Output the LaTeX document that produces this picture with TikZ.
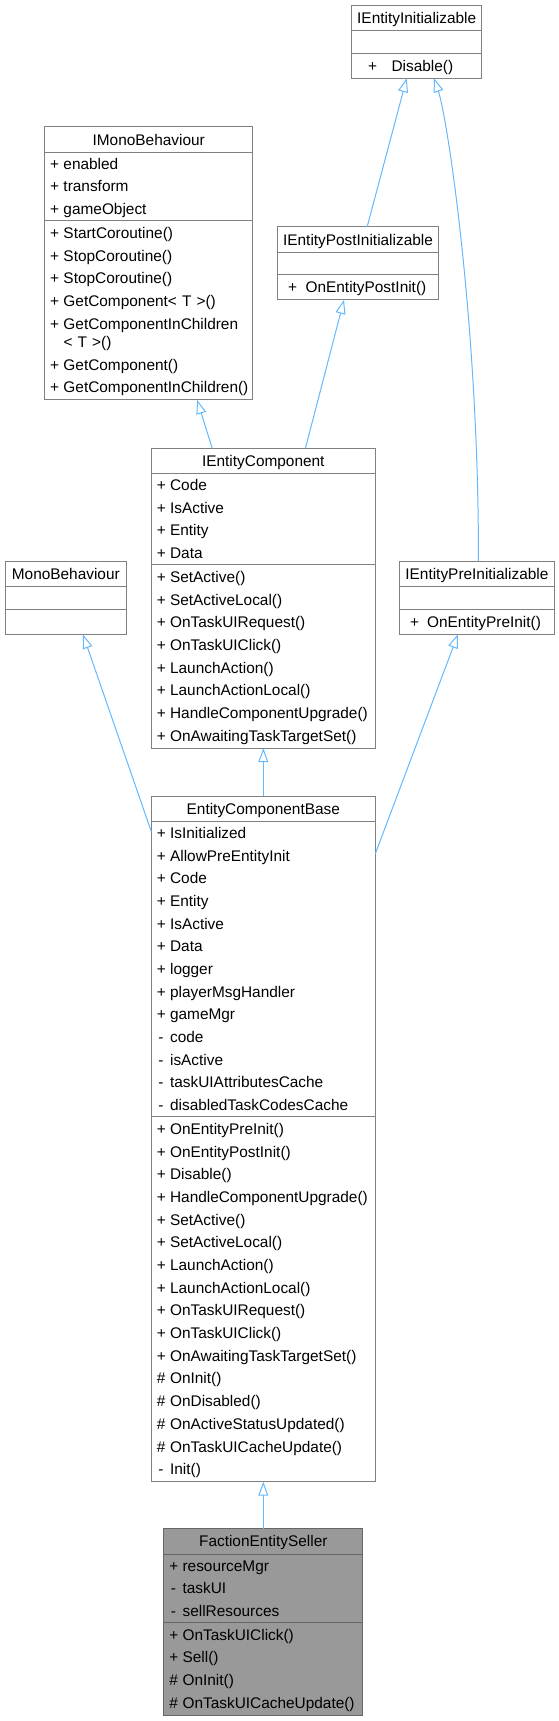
\documentclass[tikz,border=0pt]{standalone}
\usepackage{fontspec}
\setmainfont{Liberation Sans}
\usetikzlibrary{positioning,arrows.meta}
\setlength{\parindent}{0pt}

\definecolor{edgeblue}{HTML}{63B8FF}
\definecolor{boxgray}{HTML}{808080}
\definecolor{selgray}{HTML}{999999}
\definecolor{seldraw}{HTML}{666666}

\newcommand{\rowstrut}{\rule[-5.78pt]{0pt}{22.68pt}}
\newcommand{\pub}{\rowstrut\makebox[13.3pt][l]{+}}
\newcommand{\priv}{\rowstrut\makebox[13.3pt][l]{\hspace{1.5pt}-}}
\newcommand{\prot}{\rowstrut\makebox[13.3pt][l]{\#}}

\begin{document}
\begin{tikzpicture}[x=1pt, y=-1pt,
	ttl/.style={draw=boxgray, line width=1pt, inner xsep=0pt, inner ysep=0pt, outer sep=0pt,
		minimum height=25.5pt, anchor=north, font=\fontsize{15.4pt}{22.68pt}\selectfont},
	sec/.style={draw=boxgray, line width=1pt, inner xsep=5.5pt, inner ysep=0pt, outer sep=0pt,
		text width=#1, align=left, minimum height=22.5pt, font=\fontsize{15.4pt}{22.68pt}\selectfont},
	ops/.style={inner ysep=1.25pt},
	sel/.style={fill=selgray, draw=seldraw},
	inh/.style={edgeblue, line width=1pt, -{Triangle[open, length=14pt, width=10pt]}}]
	\useasboundingbox (0,0) rectangle (559,1721);
	
	% IEntityInitializable
	\node[ttl, minimum width=130pt] (einitT) at (416.7,5) {\rowstrut IEntityInitializable};
	\node[sec=119pt, below=0pt of einitT] (einitA) {};
	\node[sec=119pt, ops, below=0pt of einitA] (einitM) {\hspace*{11pt}\rowstrut\makebox[23.4pt][l]{+}Disable()};
	
	% IMonoBehaviour
	\node[ttl, minimum width=208pt] (imonoT) at (148.7,126.7) {\rowstrut IMonoBehaviour};
	\node[sec=197pt, below=0pt of imonoT] (imonoA) {\pub enabled\\\pub transform\\\pub gameObject};
	\node[sec=197pt, ops, below=0pt of imonoA] (imonoM) {\pub StartCoroutine()\\\pub StopCoroutine()\\\pub StopCoroutine()\\
		\pub GetComponent< T >()\\\pub GetComponentInChildren\\[-4.28pt]\rowstrut\hspace*{13.3pt}< T >()\\
		\pub GetComponent()\\\pub GetComponentInChildren()};
	
	% IEntityPostInitializable
	\node[ttl, minimum width=161pt] (epostT) at (358,226.7) {\rowstrut IEntityPostInitializable};
	\node[sec=150pt, below=0pt of epostT] (epostA) {};
	\node[sec=150pt, ops, below=0pt of epostA] (epostM) {\hspace*{5.1pt}\rowstrut\makebox[17.5pt][l]{+}OnEntityPostInit()};
	
	% IEntityComponent
	\node[ttl, minimum width=224pt] (ecompT) at (263.3,448) {\rowstrut IEntityComponent};
	\node[sec=213pt, below=0pt of ecompT] (ecompA) {\pub Code\\\pub IsActive\\\pub Entity\\\pub Data};
	\node[sec=213pt, ops, below=0pt of ecompA] (ecompM) {\pub SetActive()\\\pub SetActiveLocal()\\\pub OnTaskUIRequest()\\
		\pub OnTaskUIClick()\\\pub LaunchAction()\\\pub LaunchActionLocal()\\\pub HandleComponentUpgrade()\\
		\pub OnAwaitingTaskTargetSet()};
	
	% MonoBehaviour
	\node[ttl, minimum width=121.6pt] (monoT) at (65.8,561) {\rowstrut MonoBehaviour};
	\node[sec=110.6pt, below=0pt of monoT] (monoA) {};
	\node[sec=110.6pt, ops, minimum height=25.5pt, below=0pt of monoA] (monoM) {};
	
	% IEntityPreInitializable
	\node[ttl, minimum width=155pt] (epreT) at (476.9,561) {\rowstrut IEntityPreInitializable};
	\node[sec=144pt, below=0pt of epreT] (epreA) {};
	\node[sec=144pt, ops, below=0pt of epreA] (epreM) {\hspace*{5.2pt}\rowstrut\makebox[17pt][l]{+}OnEntityPreInit()};
	
	% EntityComponentBase
	\node[ttl, minimum width=224pt] (ecbT) at (263.3,796) {\rowstrut EntityComponentBase};
	\node[sec=213pt, below=0pt of ecbT] (ecbA) {\pub IsInitialized\\\pub AllowPreEntityInit\\\pub Code\\\pub Entity\\
		\pub IsActive\\\pub Data\\\pub logger\\\pub playerMsgHandler\\\pub gameMgr\\\priv code\\\priv isActive\\
		\priv taskUIAttributesCache\\\priv disabledTaskCodesCache};
	\node[sec=213pt, ops, below=0pt of ecbA] (ecbM) {\pub OnEntityPreInit()\\\pub OnEntityPostInit()\\\pub Disable()\\
		\pub HandleComponentUpgrade()\\\pub SetActive()\\\pub SetActiveLocal()\\\pub LaunchAction()\\
		\pub LaunchActionLocal()\\\pub OnTaskUIRequest()\\\pub OnTaskUIClick()\\\pub OnAwaitingTaskTargetSet()\\
		\prot OnInit()\\\prot OnDisabled()\\\prot OnActiveStatusUpdated()\\\prot OnTaskUICacheUpdate()\\\priv Init()};
	
	% FactionEntitySeller
	\node[ttl, sel, minimum width=199pt] (fesT) at (263.3,1528.6) {\rowstrut FactionEntitySeller};
	\node[sec=188pt, sel, below=0pt of fesT] (fesA) {\pub resourceMgr\\\priv taskUI\\\priv sellResources};
	\node[sec=188pt, sel, ops, below=0pt of fesA] (fesM) {\pub OnTaskUIClick()\\\pub Sell()\\\prot OnInit()\\\prot OnTaskUICacheUpdate()};
	
	% Vererbung
	\draw[inh] ([xshift=9.2pt]epostT.north) -- ([xshift=-10pt]einitM.south);
	\draw[inh] ([xshift=1.5pt]epreT.north) .. controls (479,330) and (448,120) .. ([xshift=17.3pt]einitM.south);
	\draw[inh] ([xshift=-51.2pt]ecompT.north) -- ([xshift=48.4pt]imonoM.south);
	\draw[inh] ([xshift=42.2pt]ecompT.north) -- ([xshift=-14pt]epostM.south);
	\draw[inh] (ecbT.north) -- (ecompM.south);
	\draw[inh] ([yshift=-10pt]ecbA.north west) -- ([xshift=17.2pt]monoM.south);
	\draw[inh] ([yshift=-32.3pt]ecbA.north east) -- ([xshift=-18.9pt]epreM.south);
	\draw[inh] (fesT.north) -- (ecbM.south);
\end{tikzpicture}
\end{document}
